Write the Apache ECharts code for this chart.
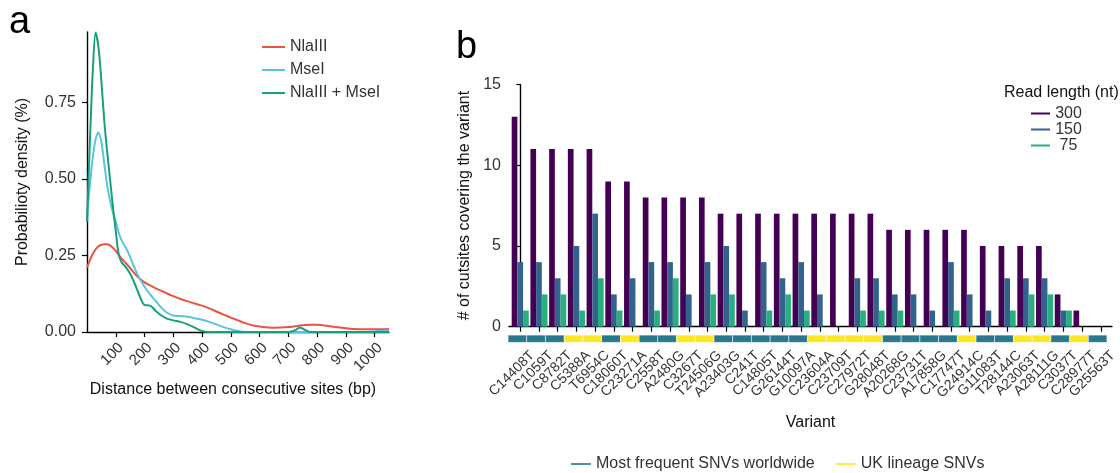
<!DOCTYPE html>
<html>
<head>
<meta charset="utf-8">
<script src="https://cdn.jsdelivr.net/npm/echarts@6/dist/echarts.min.js"></script>
<style>
  html, body { margin: 0; padding: 0; background: #fff; }
  #chart { width: 1120px; height: 473px; }
</style>
</head>
<body>
<div id="chart"></div>
<script>
// ---- Panel a: spacing between consecutive restriction sites ----
const distanceBp = [0, 10, 20, 30, 40, 50, 60, 70, 80, 90, 100, 110, 120, 135, 150, 165, 180, 200, 220, 240, 260, 280, 300, 325, 350, 375, 400, 425, 450, 475, 500, 525, 550, 575, 600, 650, 700, 725, 740, 760, 775, 800, 850, 900, 950, 1000, 1050];
const densityNlaIII = [0.21, 0.235, 0.255, 0.27, 0.28, 0.285, 0.287, 0.287, 0.283, 0.275, 0.265, 0.252, 0.24, 0.225, 0.209, 0.192, 0.177, 0.162, 0.152, 0.142, 0.134, 0.125, 0.117, 0.108, 0.1, 0.093, 0.086, 0.077, 0.067, 0.057, 0.047, 0.038, 0.029, 0.022, 0.018, 0.014, 0.016, 0.019, 0.021, 0.023, 0.024, 0.024, 0.018, 0.012, 0.009, 0.009, 0.01];
const densityMseI = [0.37, 0.48, 0.57, 0.63, 0.652, 0.62, 0.55, 0.48, 0.43, 0.39, 0.36, 0.325, 0.3, 0.275, 0.245, 0.21, 0.18, 0.148, 0.122, 0.1, 0.078, 0.062, 0.054, 0.052, 0.05, 0.045, 0.04, 0.033, 0.025, 0.016, 0.009, 0.003, 0, 0, 0, 0, 0, 0, 0, 0, 0, 0, 0, 0, 0, 0.002, 0.006];
const densityBoth = [0.36, 0.62, 0.85, 0.978, 0.93, 0.82, 0.69, 0.59, 0.5, 0.41, 0.33, 0.255, 0.228, 0.212, 0.19, 0.16, 0.125, 0.088, 0.086, 0.068, 0.053, 0.043, 0.038, 0.033, 0.025, 0.014, 0.003, 0, 0, 0, 0, 0, 0, 0, 0, 0, 0, 0.006, 0.015, 0.006, 0, 0, 0, 0, 0, 0, 0];
const distanceTicks = [100, 200, 300, 400, 500, 600, 700, 800, 900, 1000];
const densityTicks = [0, 0.25, 0.5, 0.75];

// ---- Panel b: cut sites covering each variant, by read length ----
const variants = ['C14408T', 'C1059T', 'C8782T', 'C5388A', 'T6954C', 'C18060T', 'C23271A', 'C2558T', 'A2480G', 'C3267T', 'T24506G', 'A23403G', 'C241T', 'C14805T', 'G26144T', 'G10097A', 'C23604A', 'C23709T', 'C27972T', 'G28048T', 'A20268G', 'C23731T', 'A17858G', 'C17747T', 'G24914C', 'G11083T', 'T28144C', 'A23063T', 'A28111G', 'C3037T', 'C28977T', 'G25563T'];
const cutsites300 = [13, 11, 11, 11, 11, 9, 9, 8, 8, 8, 8, 7, 7, 7, 7, 7, 7, 7, 7, 7, 6, 6, 6, 6, 6, 5, 5, 5, 5, 2, 1, 0];
const cutsites150 = [4, 4, 3, 5, 7, 2, 3, 4, 4, 2, 4, 5, 1, 4, 3, 4, 2, 0, 3, 3, 2, 2, 1, 4, 2, 1, 3, 3, 3, 1, 0, 0];
const cutsites75 = [1, 2, 2, 1, 3, 1, 0, 1, 3, 0, 2, 2, 0, 1, 2, 1, 0, 0, 1, 1, 1, 0, 0, 1, 0, 0, 1, 2, 2, 1, 0, 0];
// W = most frequent SNVs worldwide, UK = UK lineage SNVs
const variantGroup = ['W', 'W', 'W', 'UK', 'UK', 'W', 'UK', 'W', 'W', 'UK', 'UK', 'W', 'W', 'W', 'W', 'W', 'UK', 'UK', 'UK', 'UK', 'W', 'W', 'W', 'W', 'UK', 'W', 'W', 'UK', 'UK', 'W', 'UK', 'W'];
const countTicks = [0, 5, 10, 15];

const FONT = "'Liberation Sans', Arial, sans-serif";
const TICK_COLOR = '#333';
const LABEL_SHIFT = 0.38; // variant labels sit slightly right of their tick
const variantIdx = variants.map((_, i) => i);
// labels are split over two axes so neighbouring rotated labels never collide
const evenIdx = variantIdx.filter(i => i % 2 === 0);
const oddIdx = variantIdx.filter(i => i % 2 === 1);

const axisLine = { show: true, lineStyle: { color: '#000', width: 1.4 } };
const axisTickStyle = { lineStyle: { color: '#000', width: 1.2 } };

const variantLabel = idx => ({
  customValues: idx.map(i => i + LABEL_SHIFT),
  formatter: v => variants[Math.round(v - LABEL_SHIFT)] || '',
  rotate: 45, align: 'right', verticalAlign: 'top',
  margin: 21.5, fontSize: 14, color: TICK_COLOR,
  showMinLabel: true, showMaxLabel: true
});

const chart = echarts.init(document.getElementById('chart'), null, { renderer: 'canvas' });

const lineSeries = (name, values, color) => ({
  name, type: 'line', xAxisIndex: 0, yAxisIndex: 0,
  data: distanceBp.map((d, i) => [d, values[i]]),
  smooth: 0.3, symbol: 'none', showSymbol: false,
  lineStyle: { width: 2, color }, itemStyle: { color }
});

const barSeries = (name, values, color) => ({
  name, type: 'bar', xAxisIndex: 1, yAxisIndex: 1,
  data: variantIdx.map(i => [i, values[i]]),
  barWidth: 5.7, barGap: '0%',
  itemStyle: { color }
});

const stripSeries = (name, key, color) => ({
  name, type: 'bar', xAxisIndex: 2, yAxisIndex: 2, stack: 'strip',
  barWidth: '100%',
  data: variantGroup.map(g => (g === key ? 1 : '-')),
  itemStyle: { color, borderColor: 'rgba(255,255,255,0.18)', borderWidth: 0.6 }
});

chart.setOption({
  animation: false,
  textStyle: { fontFamily: FONT },
  title: [{
    text: 'Read length (nt)', left: 1004, top: 85, padding: 0,
    textStyle: { fontFamily: FONT, fontSize: 16, fontWeight: 'normal', color: '#111' }
  }],
  graphic: [
    { type: 'text', left: 9, top: 4, style: { text: 'a', fontSize: 38, fontFamily: FONT, fill: '#000' } },
    { type: 'text', left: 456, top: 29, style: { text: 'b', fontSize: 38, fontFamily: FONT, fill: '#000' } }
  ],
  legend: [
    {
      data: ['NlaIII', 'MseI', 'NlaIII + MseI'],
      orient: 'vertical', left: 262, top: 39, padding: 0, icon: 'rect',
      itemWidth: 23, itemHeight: 2, itemGap: 7,
      textStyle: { fontFamily: FONT, fontSize: 16, lineHeight: 16, color: '#333' }
    },
    {
      data: ['300', '150', '75'],
      orient: 'vertical', left: 1031, top: 105.5, padding: 0, icon: 'rect',
      itemWidth: 19, itemHeight: 2, itemGap: 0,
      formatter: name => '{n|' + name + '}',
      textStyle: {
        fontFamily: FONT, fontSize: 16, lineHeight: 16, color: '#333',
        rich: { n: { width: 27, align: 'center', fontSize: 16, lineHeight: 16, fontFamily: FONT, color: '#333' } }
      }
    },
    {
      data: ['Most frequent SNVs worldwide', 'UK lineage SNVs'],
      orient: 'horizontal', left: 570, top: 456, padding: 0, icon: 'rect',
      itemWidth: 20, itemHeight: 2, itemGap: 20,
      textStyle: { fontFamily: FONT, fontSize: 16, lineHeight: 16, color: '#333' }
    }
  ],
  grid: [
    { left: 87, top: 32, width: 302, height: 300 },
    { left: 509, top: 84.5, width: 603, height: 242.2 },
    { left: 508, top: 335, width: 599, height: 7.5 }
  ],
  xAxis: [
    {
      gridIndex: 0, type: 'value', min: 0, max: 1050,
      name: 'Distance between consecutive sites (bp)', nameLocation: 'middle', nameGap: 50,
      nameTextStyle: { fontSize: 16, color: '#111', padding: [0, 10, 0, 0] },
      axisLine,
      axisTick: { show: true, length: 5, customValues: distanceTicks, ...axisTickStyle },
      axisLabel: {
        customValues: distanceTicks, formatter: v => String(v),
        rotate: 45, align: 'right', verticalAlign: 'top',
        margin: 8, fontSize: 15, color: TICK_COLOR,
        showMinLabel: true, showMaxLabel: true
      },
      splitLine: { show: false }
    },
    {
      gridIndex: 1, type: 'value', min: -0.6, max: 31.6, position: 'bottom',
      name: 'Variant', nameLocation: 'middle', nameGap: 88,
      nameTextStyle: { fontSize: 16, color: '#111' },
      axisLine,
      axisTick: { show: true, length: 5, customValues: variantIdx, ...axisTickStyle },
      axisLabel: variantLabel(evenIdx),
      splitLine: { show: false }
    },
    {
      gridIndex: 2, type: 'category', data: variants, show: false,
      boundaryGap: true
    },
    {
      gridIndex: 1, type: 'value', min: -0.6, max: 31.6, position: 'bottom', offset: 0,
      axisLine: { show: false },
      axisTick: { show: false },
      axisLabel: variantLabel(oddIdx),
      splitLine: { show: false }
    }
  ],
  yAxis: [
    {
      gridIndex: 0, type: 'value', min: 0, max: 0.98,
      name: 'Probabilioty density (%)', nameLocation: 'middle', nameGap: 56,
      nameTextStyle: { fontSize: 16, color: '#111' },
      axisLine,
      axisTick: { show: true, length: 5, customValues: densityTicks, ...axisTickStyle },
      axisLabel: {
        customValues: densityTicks, formatter: v => v.toFixed(2),
        margin: 11, fontSize: 16, color: TICK_COLOR
      },
      splitLine: { show: false }
    },
    {
      gridIndex: 1, type: 'value', min: 0, max: 15, interval: 5,
      name: '# of cutsites covering the variant', nameLocation: 'middle', nameGap: 29,
      nameTextStyle: { fontSize: 16, color: '#111' },
      axisLine,
      axisTick: { show: true, length: 4, ...axisTickStyle },
      axisLabel: { margin: 8, fontSize: 16, color: TICK_COLOR },
      splitLine: { show: false }
    },
    {
      gridIndex: 2, type: 'value', min: 0, max: 1, show: false
    }
  ],
  series: [
    lineSeries('NlaIII', densityNlaIII, '#E9553F'),
    lineSeries('MseI', densityMseI, '#5BC3DE'),
    lineSeries('NlaIII + MseI', densityBoth, '#16A07E'),
    barSeries('300', cutsites300, '#440154'),
    barSeries('150', cutsites150, '#33638D'),
    barSeries('75', cutsites75, '#29AF7F'),
    stripSeries('Most frequent SNVs worldwide', 'W', '#2A788E'),
    stripSeries('UK lineage SNVs', 'UK', '#FDE725')
  ]
});
</script>
</body>
</html>
